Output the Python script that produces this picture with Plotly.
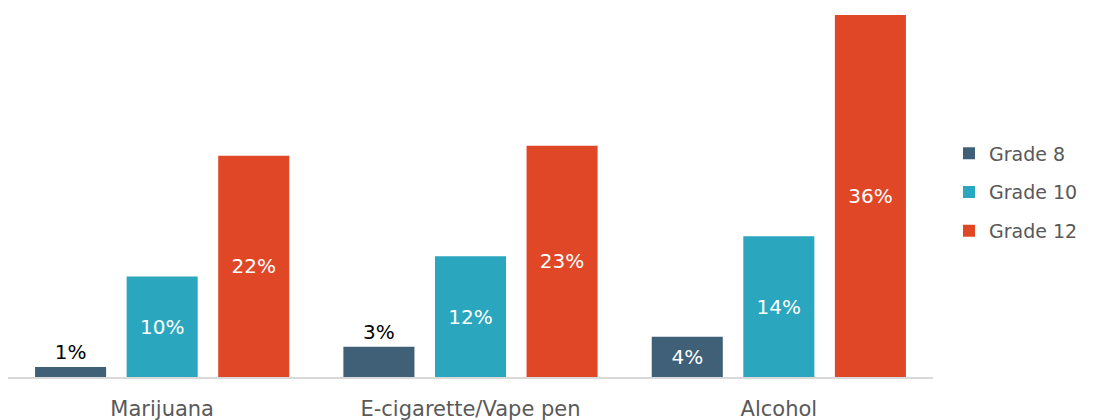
import plotly.graph_objects as go

categories = ["Marijuana", "E-cigarette/Vape pen", "Alcohol"]
grade8 = [1, 3, 4]
grade10 = [10, 12, 14]
grade12 = [22, 23, 36]
series_names = ["Grade 8", "Grade 10", "Grade 12"]
colors = ["#3f6077", "#2aa6be", "#e04727"]

FONT = "DejaVu Sans, sans-serif"

fig = go.Figure()
for i, (name, vals, col) in enumerate(zip(series_names, [grade8, grade10, grade12], colors)):
    if name == "Grade 8":
        pos = ["outside" if v < 4 else "inside" for v in vals]
    else:
        pos = ["inside"] * len(vals)
    fig.add_trace(go.Bar(
        x=categories, y=vals, name=name, legendgroup=f"g{i}",
        marker=dict(color=col, line=dict(width=0)),
        text=[f"{v}%" for v in vals], textposition=pos,
        insidetextanchor="middle", cliponaxis=False,
        outsidetextfont=dict(family=FONT, size=20, color="#000000"),
        insidetextfont=dict(family=FONT, size=20, color="#ffffff"),
        constraintext="none",
    ))

fig.update_layout(
    width=1093, height=420,
    margin=dict(l=0, r=168, t=7, b=51, autoexpand=False),
    barmode="group", bargap=0.109, bargroupgap=0.224,
    plot_bgcolor="white", paper_bgcolor="white",
    font=dict(family=FONT, color="#595959"),
    legend=dict(x=1.0173, y=0.51, yanchor="middle", xanchor="left",
                font=dict(family=FONT, size=19, color="#595959"),
                tracegroupgap=11, traceorder="grouped"),
    showlegend=True,
)
fig.update_xaxes(showline=True, linecolor="#d9d9d9", linewidth=1.5,
                 tickfont=dict(family=FONT, size=21, color="#595959"),
                 ticks="", ticklabelstandoff=12, automargin=False)
fig.update_yaxes(range=[0, 36], visible=False, showgrid=False, automargin=False)

fig.write_html("out.html")
